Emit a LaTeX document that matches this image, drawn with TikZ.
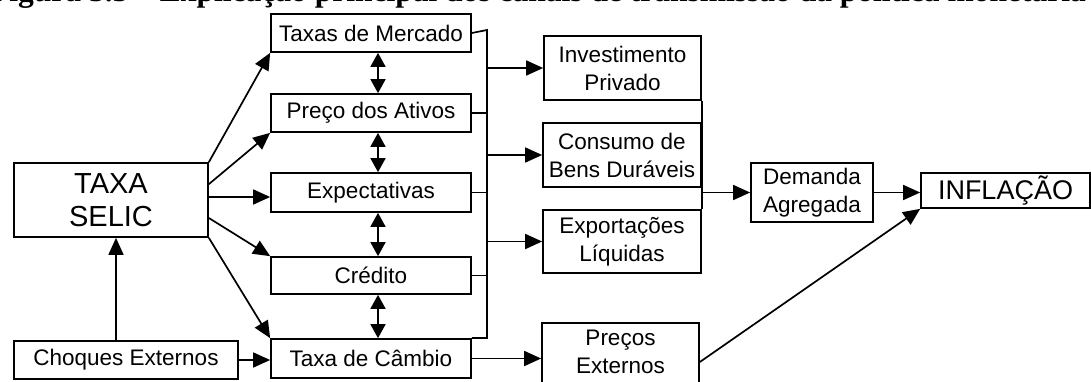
\documentclass[tikz,border=0pt]{standalone}
\usepackage{fontspec}
\setmainfont{Liberation Sans}
\newfontfamily\capfont{Liberation Serif}
\usetikzlibrary{arrows.meta,calc}
\tikzset{
  box/.style={draw, line width=1.7pt, inner sep=0pt, align=center, font=\fontsize{22.5}{28}\selectfont},
  arr/.style={line width=1.7pt, -{Triangle[length=17pt,width=15pt]}},
  darr/.style={line width=1.7pt, {Triangle[length=14pt,width=15pt]}-{Triangle[length=14pt,width=15pt]}},
  ln/.style={line width=1.7pt}
}
\begin{document}
\begin{tikzpicture}[x=1pt,y=-1pt]
\useasboundingbox (0,0) rectangle (1091,382);
% cropped caption
\node[anchor=base west, inner sep=0pt, font=\capfont\bfseries\fontsize{31.5}{31.5}\selectfont] (cap) at (-10,2) {Figura 3.5 – Explicação principal dos canais de transmissão da política monetária};
% boxes
\node[box, minimum width=194pt, minimum height=74pt, font=\fontsize{29}{33}\selectfont] (selic) at (111,200) {TAXA\\SELIC};
\node[box, minimum width=224pt, minimum height=38pt] (choq) at (126,360) {Choques Externos};
\node[box, minimum width=200pt, minimum height=38pt] (merc) at (371,33) {Taxas de Mercado};
\node[box, minimum width=200pt, minimum height=38pt] (prec) at (371,113) {Preço dos Ativos};
\node[box, minimum width=200pt, minimum height=39pt] (expe) at (371,192.5) {Expectativas};
\node[box, minimum width=200pt, minimum height=37pt] (cred) at (371,275.5) {Crédito};
\node[box, minimum width=200pt, minimum height=39pt] (camb) at (371,358.5) {Taxa de Câmbio};
\node[box, minimum width=157pt, minimum height=64pt] (inv) at (622.5,68) {Investimento\\Privado};
\node[box, minimum width=158pt, minimum height=64pt] (cons) at (622,155) {Consumo de\\Bens Duráveis};
\node[box, minimum width=158pt, minimum height=63pt] (expo) at (622,241.5) {Exportações\\Líquidas};
\node[box, minimum width=157pt, minimum height=72pt] (prex) at (620.5,359) {};
\node[align=center, inner sep=0pt, font=\fontsize{22.5}{28}\selectfont] (prext) at (620.5,352) {Preços\\Externos};
\node[box, minimum width=122pt, minimum height=59pt] (dem) at (812,192.5) {Demanda\\Agregada};
\node[box, minimum width=169pt, minimum height=35pt, font=\fontsize{27}{30}\selectfont] (infl) at (1005.5,190.5) {INFLAÇÃO};
% connectors from SELIC
\draw[arr] ([xshift=5pt]selic.south |- choq.north) -- ([xshift=5pt]selic.south);
\draw[arr] (choq.east) -- (choq.east -| camb.west);
\draw[arr] (selic.north east) -- (merc.south west);
\draw[arr] ([yshift=-22pt]selic.north east) -- (prec.south west);
\draw[arr] ([yshift=3pt]selic.east) -- ([yshift=3pt]selic.east -| expe.west);
\draw[arr] ([yshift=-18pt]selic.east) -- (cred.north west);
\draw[arr] (selic.south east) -- (camb.north west);
% double arrows
\draw[darr] ([xshift=7pt]merc.south) -- ([xshift=7pt]prec.north);
\draw[darr] ([xshift=7pt]prec.south) -- ([xshift=7pt]expe.north);
\draw[darr] ([xshift=7pt]expe.south) -- ([xshift=7pt]cred.north);
\draw[darr] ([xshift=7pt]cred.south) -- ([xshift=7pt]camb.north);
% bus
\coordinate (bt) at (487,30);
\coordinate (bb) at (487,338);
\draw[ln] (merc.east) -- (bt) -- (bb) -- (bb -| camb.east);
\draw[ln] (prec.east) -- (prec.east -| bt);
\draw[ln] (expe.east) -- (expe.east -| bt);
\draw[ln] (cred.east) -- (cred.east -| bt);
\draw[arr] (bt |- inv.west) -- (inv.west);
\draw[arr] (bt |- cons.west) -- (cons.west);
\draw[arr] (bt |- expo.west) -- (expo.west);
% right bus
\draw[ln] (inv.south east) -- (expo.north east);
\draw[arr] (dem.west -| inv.east) -- (dem.west);
\draw[arr] (camb.east) -- (camb.east -| prex.west);
\draw[arr] (dem.east) -- (dem.east -| infl.west);
\draw[arr] ([yshift=-3pt]prex.east) -- (infl.south west);
\end{tikzpicture}
\end{document}
